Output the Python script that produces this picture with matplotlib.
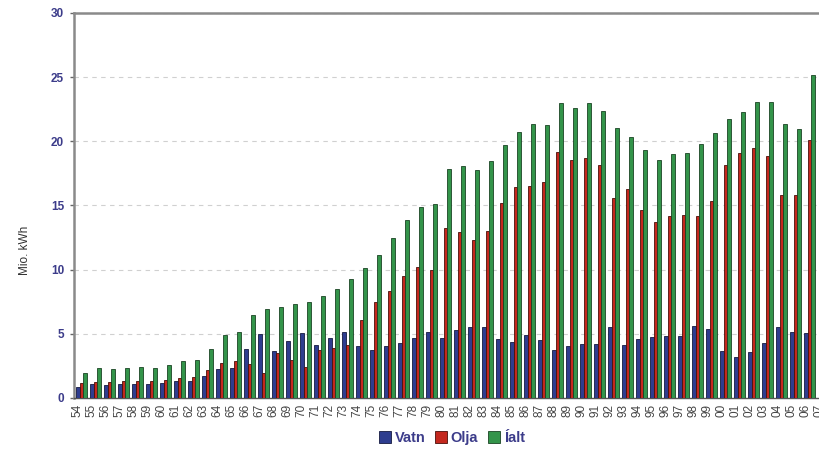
import matplotlib
matplotlib.use("Agg")
import matplotlib.pyplot as plt
import numpy as np

plt.rcParams['font.family'] = ['Liberation Sans', 'DejaVu Sans']

# ár (54 .. 07), 07 er skorið af hægra megin
ar = ['54', '55', '56', '57', '58', '59', '60', '61', '62', '63', '64', '65', '66', '67',
      '68', '69', '70', '71', '72', '73', '74', '75', '76', '77', '78', '79', '80', '81',
      '82', '83', '84', '85', '86', '87', '88', '89', '90', '91', '92', '93', '94', '95',
      '96', '97', '98', '99', '00', '01', '02', '03', '04', '05', '06', '07']

vatn = [0.88, 1.07, 0.99, 1.07, 1.07, 1.07, 1.14, 1.32, 1.32, 1.71, 2.23, 2.31, 3.82, 4.99,
        3.66, 4.42, 5.07, 4.16, 4.65, 5.17, 4.08, 3.74, 4.08, 4.31, 4.65, 5.17, 4.68, 5.28,
        5.51, 5.51, 4.60, 4.34, 4.91, 4.52, 3.74, 4.05, 4.23, 4.23, 5.51, 4.16, 4.60, 4.75,
        4.86, 4.86, 5.61, 5.35, 3.66, 3.17, 3.59, 4.26, 5.51, 5.17, 5.09]
olja = [1.17, 1.25, 1.25, 1.32, 1.32, 1.32, 1.40, 1.56, 1.64, 2.16, 2.73, 2.88, 2.65, 1.92,
        3.48, 2.96, 2.39, 3.74, 3.92, 4.13, 6.08, 7.46, 8.36, 9.53, 10.21, 9.98, 13.25, 12.91,
        12.31, 12.99, 15.17, 16.42, 16.50, 16.86, 19.20, 18.53, 18.71, 18.18, 15.56, 16.27, 14.65, 13.74,
        14.19, 14.26, 14.19, 15.35, 18.14, 19.12, 19.46, 18.89, 15.85, 15.85, 20.08]
ialt = [1.97, 2.31, 2.23, 2.31, 2.39, 2.31, 2.57, 2.90, 2.99, 3.82, 4.91, 5.17, 6.44, 6.94,
        7.12, 7.35, 7.46, 7.92, 8.52, 9.27, 10.13, 11.15, 12.49, 13.90, 14.90, 15.10, 17.87, 18.10,
        17.77, 18.45, 19.72, 20.71, 21.38, 21.30, 22.97, 22.58, 22.97, 22.39, 21.02, 20.37, 19.30, 18.55,
        19.04, 19.12, 19.80, 20.65, 21.75, 22.27, 23.07, 23.07, 21.33, 20.99, 25.17]

fig = plt.figure(figsize=(8.2, 4.5), dpi=100)
# ásinn nær út fyrir hægri brún myndarinnar
ax = fig.add_axes([0.0902, 0.1156, 0.9226, 0.8556])

x = np.arange(len(vatn))
w = 0.27
d = 0.26
b1 = ax.bar(x - d, vatn, w, color='#2e3d8f', edgecolor='#151a40', linewidth=0.6, label='Vatn', zorder=3)
b2 = ax.bar(x, olja, w, color='#c4281e', edgecolor='#4a0f0a', linewidth=0.6, label='Olja', zorder=3)
b3 = ax.bar(x + d, ialt, w, color='#33944a', edgecolor='#1a4424', linewidth=0.6, label='Íalt', zorder=3)

ax.set_xlim(-0.536, 53.5)
ax.set_ylim(0, 30)

ax.set_yticks([0, 5, 10, 15, 20, 25, 30])
ax.tick_params(axis='y', length=3, width=1, color='#666666', pad=4,
               labelsize=8.5, labelcolor='#3c3c8a')
for t in ax.get_yticklabels():
    t.set_fontweight('bold')

ax.set_xticks(np.arange(len(ar)) - 0.3)
ax.set_xticklabels(ar, rotation=90, fontsize=8.5, color='#444444')
ax.tick_params(axis='x', length=0, pad=4)

ax.yaxis.grid(True, linestyle=(0, (4, 4)), color='#d0d0d0', linewidth=0.8, zorder=0)
ax.set_axisbelow(True)

for s in ['left', 'top']:
    ax.spines[s].set_color('#8a8a8a')
    ax.spines[s].set_linewidth(1.8)
ax.spines['bottom'].set_color('#555555')
ax.spines['bottom'].set_linewidth(1.0)
ax.spines['right'].set_visible(False)

fig.text(25 / 820, 1 - 250 / 450, 'Mio. kWh', rotation=90, ha='center', va='center',
         fontsize=8.5, color='#333333')

leg = fig.legend(handles=[b1, b2, b3], loc='center', bbox_to_anchor=(452 / 820, 1 - 438 / 450),
                 ncol=3, frameon=False, handlelength=0.8, handleheight=0.8,
                 handletextpad=0.25, columnspacing=0.7,
                 prop={'size': 10.5, 'weight': 'bold'})
for t in leg.get_texts():
    t.set_color('#3c3c8a')

fig.savefig('out.png', dpi=100)
